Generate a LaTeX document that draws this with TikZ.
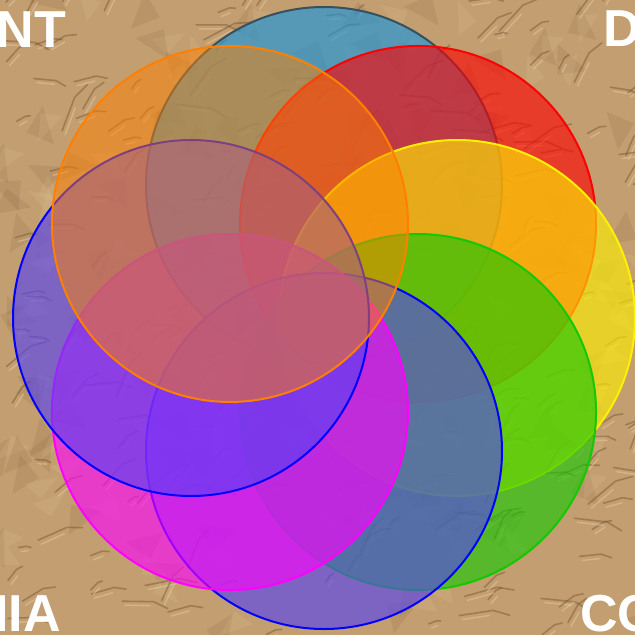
\documentclass[tikz,border=0pt]{standalone}
\usepackage{fontspec}
\setmainfont{Liberation Sans}
\definecolor{paper}{RGB}{194,158,112}
\definecolor{creasedark}{RGB}{115,82,48}
\definecolor{creaselight}{RGB}{232,205,162}
\definecolor{skyfill}{RGB}{20,150,225}
\definecolor{skyedge}{RGB}{55,80,95}
\definecolor{violetfill}{RGB}{85,65,245}
\definecolor{limefill}{RGB}{20,200,0}
\definecolor{pinkfill}{RGB}{255,0,255}
\definecolor{sunfill}{RGB}{255,240,0}

\begin{document}
\begin{tikzpicture}[x=1pt, y=-1pt,
    petal/.style={line width=2pt, fill opacity=0.62},
    crease/.style={line width=1.6pt, line cap=round, opacity=0.45},
    cornertext/.style={text=white, inner sep=0pt, font=\bfseries\fontsize{52}{52}\selectfont}]
	\clip (0,0) rectangle (635,635);
	\fill[paper] (0,0) rectangle (635,635);
	% crumpled paper
	\pgfmathsetseed{11}
	\foreach \i in {1,...,120}{
		\pgfmathsetmacro{\px}{rnd*635}
		\pgfmathsetmacro{\py}{rnd*635}
		\pgfmathsetmacro{\ang}{rnd*360}
		\fill[creasedark, opacity=0.12] (\px,\py) -- ++(\ang:40) -- ++(\ang+130:30) -- cycle;
		\fill[creaselight, opacity=0.15] (\px+20,\py+10) -- ++(\ang+60:35) -- ++(\ang+200:28) -- cycle;
	}
	\foreach \i in {1,...,240}{
		\pgfmathsetmacro{\px}{rnd*635}
		\pgfmathsetmacro{\py}{rnd*635}
		\pgfmathsetmacro{\ang}{-70+rnd*80}
		\pgfmathsetmacro{\len}{8+rnd*28}
		\draw[crease, creasedark] (\px,\py) -- ++(\ang:\len) -- ++(\ang+25:\len/2);
		\draw[crease, creaselight] (\px+3,\py+4) -- ++(\ang:\len*0.8);
	}
	\coordinate (O) at (324,318);
	% petals, clockwise from the top (y points down)
	\foreach \ang/\fc/\dc/\op in {-90/skyfill/skyedge/0.62, -45/red/red/0.62,
	    0/sunfill/sunfill/0.62, 45/limefill/limefill/0.62, 90/violetfill/blue/0.62,
	    135/pinkfill/pinkfill/0.62, 180/violetfill/blue/0.62, -135/orange/orange/0.5}
		\draw[petal, fill=\fc, draw=\dc, fill opacity=\op] (O) ++(\ang:133) circle (178);
	\node[cornertext, anchor=base east] (nt) at (66,47) {NT};
	\node[cornertext, anchor=base west] (d) at (603,46) {D};
	\node[cornertext, anchor=base east] (iia) at (61,631) {IIA};
	\node[cornertext, anchor=base west] (co) at (580,631) {CO};
\end{tikzpicture}
\end{document}
